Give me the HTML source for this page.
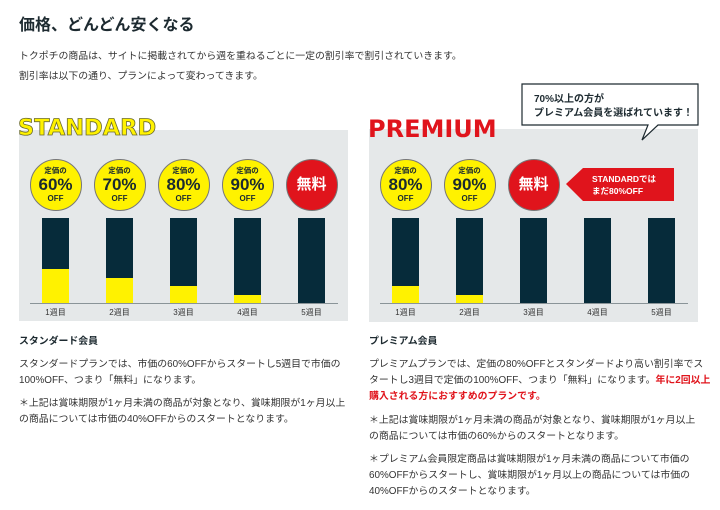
<!DOCTYPE html>
<html><head><meta charset="utf-8">
<style>
body{margin:0;width:720px;height:510px;background:#fff;position:relative;overflow:hidden;font-family:"Liberation Sans","Noto Sans CJK JP",sans-serif;color:#333;}
.abs{position:absolute;}
.t{position:absolute;font-size:9.9px;line-height:16px;color:#333;white-space:nowrap;}
.panel{position:absolute;background:#e5e8e9;}
.logo{position:absolute;font-family:"DejaVu Sans","Liberation Sans",sans-serif;font-weight:bold;font-size:25px;}
.circ{position:absolute;width:52px;height:52px;border-radius:50%;border:1px solid #777;box-sizing:border-box;text-align:center;color:#1a2a30;font-weight:bold;}
.bar{position:absolute;background:#062b3a;}
.yel{position:absolute;background:#fff200;left:0;right:0;bottom:0;}
.wk{position:absolute;font-size:8px;color:#333;width:40px;text-align:center;}
</style></head><body>
<div class="abs" style="left:19px;top:11px;font-size:16px;font-weight:bold;color:#1d2a30;">価格、どんどん安くなる</div>
<div class="t" style="left:19px;top:49px;">トクポチの商品は、サイトに掲載されてから週を重ねるごとに一定の割引率で割引されていきます。</div>
<div class="t" style="left:19px;top:69px;">割引率は以下の通り、プランによって変わってきます。</div>

<div class="panel" style="left:19px;top:130px;width:329px;height:191px;"></div>
<div class="logo" style="left:18px;top:115px;font-size:22.5px;color:#fff200;-webkit-text-stroke:0.8px #6b6b30;">STANDARD</div>
<div class="panel" style="left:369px;top:129px;width:329px;height:193px;"></div>
<div class="logo" style="left:368px;top:115px;font-size:24px;color:#e0141c;">PREMIUM</div>

<svg class="abs" style="left:520px;top:82px;" width="182" height="62">
<path d="M2 2 H178 V43 H138 L122 58 L128 43 H2 Z" fill="#fff" stroke="#1d2a30" stroke-width="1.2"/>
<text x="14" y="20" font-size="10" font-weight="bold" fill="#1d2a30" font-family="Liberation Sans, Noto Sans CJK JP, sans-serif">70%以上の方が</text>
<text x="14" y="34" font-size="10" font-weight="bold" fill="#1d2a30" font-family="Liberation Sans, Noto Sans CJK JP, sans-serif">プレミアム会員を選ばれています！</text>
</svg>
<svg class="abs" style="left:566px;top:167px;" width="112" height="36">
<path d="M0 17 L17 1 H108 V34 H17 Z" fill="#e0141c"/>
<text x="26" y="15" font-size="8.5" font-weight="bold" fill="#fff" font-family="Liberation Sans, Noto Sans CJK JP, sans-serif">STANDARDでは</text>
<text x="26" y="27" font-size="8.5" font-weight="bold" fill="#fff" font-family="Liberation Sans, Noto Sans CJK JP, sans-serif">まだ80%OFF</text>
</svg>

<div id="charts"></div>

<div class="t" style="left:19px;top:334px;font-weight:bold;color:#1d2a30;">スタンダード会員</div>
<div class="t" style="left:19px;top:357px;">スタンダードプランでは、市価の60%OFFからスタートし5週目で市価の<br>100%OFF、つまり「無料」になります。</div>
<div class="t" style="left:19px;top:396px;">＊上記は賞味期限が1ヶ月未満の商品が対象となり、賞味期限が1ヶ月以上<br>の商品については市価の40%OFFからのスタートとなります。</div>

<div class="t" style="left:369px;top:334px;font-weight:bold;color:#1d2a30;">プレミアム会員</div>
<div class="t" style="left:369px;top:357px;">プレミアムプランでは、定価の80%OFFとスタンダードより高い割引率でス<br>タートし3週目で定価の100%OFF、つまり「無料」になります。<b style="color:#e0141c">年に2回以上</b><br><b style="color:#e0141c">購入される方におすすめのプランです。</b></div>
<div class="t" style="left:369px;top:413px;">＊上記は賞味期限が1ヶ月未満の商品が対象となり、賞味期限が1ヶ月以上<br>の商品については市価の60%からのスタートとなります。</div>
<div class="t" style="left:369px;top:452px;">＊プレミアム会員限定商品は賞味期限が1ヶ月未満の商品について市価の<br>60%OFFからスタートし、賞味期限が1ヶ月以上の商品については市価の<br>40%OFFからのスタートとなります。</div>

<script>
const weeks = ["1週目","2週目","3週目","4週目","5週目"];
const standardDiscounts = [60,70,80,90,100];
const premiumDiscounts = [80,90,100,100,100];
const premiumBadges = [true,true,true,false,false];

const root = document.getElementById('charts');
function yScale(v, h){ return v/100*h; }
function drawChart(name, x0, discounts, badges){
  const barTop=218, barBottom=303, barW=27, step=64;
  const h=barBottom-barTop;
  const axis=document.createElement('div');
  axis.className='abs';
  axis.style.cssText='left:'+(x0-12)+'px;top:'+barBottom+'px;width:308px;height:1px;background:#8a9498;';
  
  
  root.appendChild(axis);
  discounts.forEach((d,i)=>{
    const x=x0+i*step;
    const bar=document.createElement('div');
    bar.className='bar';
    bar.style.cssText='left:'+x+'px;top:'+barTop+'px;width:'+barW+'px;height:'+h+'px;';
    
    
    const y=document.createElement('div');
    y.className='yel';
    y.style.height=yScale(100-d,h)+'px';
    
    
    bar.appendChild(y);
    root.appendChild(bar);
    const lb=document.createElement('div');
    lb.className='wk';
    lb.textContent=weeks[i];
    lb.style.cssText='left:'+(x+barW/2-20)+'px;top:307px;';
    
    
    root.appendChild(lb);
    if(badges && !badges[i]) return;
    const c=document.createElement('div');
    c.className='circ';
    c.style.left=(x+barW/2-26)+'px';
    c.style.top='159px';
    if(d>=100){
      c.style.background='#e0141c';
      c.style.color='#fff';
      c.innerHTML='<div style="font-size:15px;line-height:50px;">無料</div>';
    } else {
      c.style.background='#fff200';
      c.innerHTML='<div style="font-size:7.5px;margin-top:6px;line-height:9px;">定価の</div><div style="font-size:17px;line-height:19px;">'+d+'%</div><div style="font-size:8px;line-height:9px;">OFF</div>';
    }
    
    
    root.appendChild(c);
  });
}
drawChart('standard', 42, standardDiscounts, null);
drawChart('premium', 392, premiumDiscounts, premiumBadges);
</script>
</body></html>
